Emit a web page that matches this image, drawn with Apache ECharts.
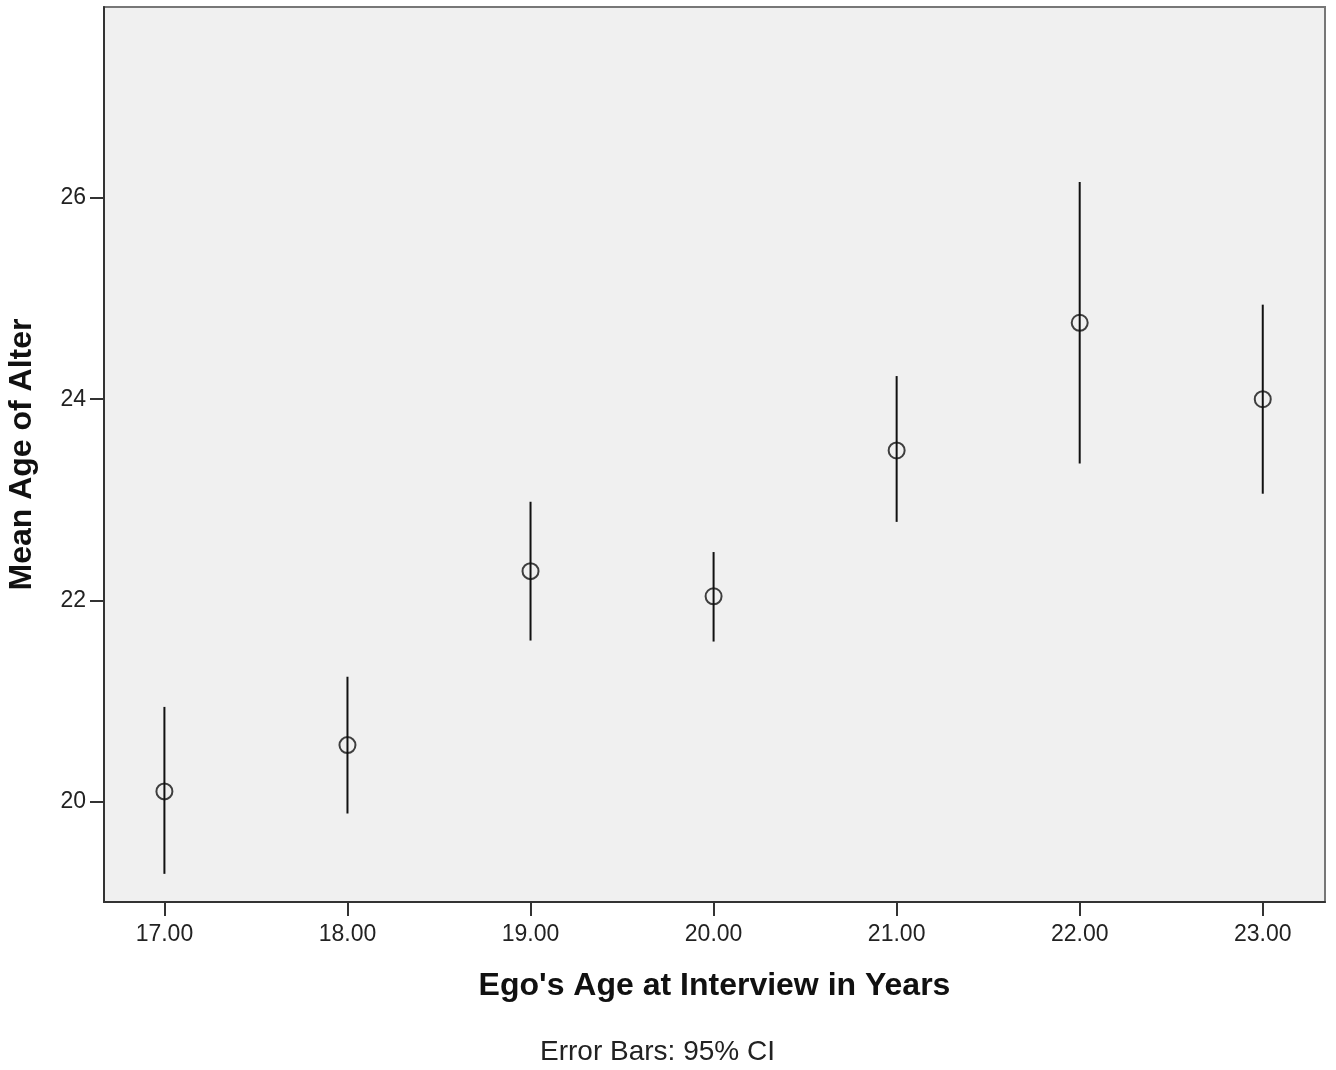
<!DOCTYPE html>
<html>
<head>
<meta charset="utf-8">
<script src="https://cdn.jsdelivr.net/npm/echarts@6/dist/echarts.min.js"></script>
<style>
  html, body { margin: 0; padding: 0; background: #fff; }
  #chart { width: 1336px; height: 1070px; }
</style>
</head>
<body>
<div id="chart"></div>
<script>
// ego age groups and mean age of alter with 95% CI
const egoAges = [17, 18, 19, 20, 21, 22, 23];
const means = [20.10, 20.56, 22.29, 22.04, 23.49, 24.76, 24.00];
const lower = [19.28, 19.88, 21.60, 21.59, 22.78, 23.36, 23.06];
const upper = [20.94, 21.24, 22.98, 22.48, 24.23, 26.16, 24.94];
const yTicks = [20, 22, 24, 26];

const chart = echarts.init(document.getElementById("chart"));
const font = "'Liberation Sans', Arial, sans-serif";

chart.setOption({
  animation: false,
  backgroundColor: "#fff",
  grid: {
    left: 104,
    right: 11,
    top: 7,
    bottom: 168,
    outerBoundsMode: "none",
    show: true,
    backgroundColor: "#f0f0f0",
    borderColor: "#777",
    borderWidth: 2,
  },
  xAxis: {
    type: "value",
    min: 16.67,
    max: 23.34,
    name: "Ego's Age at Interview in Years",
    nameLocation: "middle",
    nameGap: 68,
    nameTextStyle: {
      fontFamily: font,
      fontWeight: "bold",
      fontSize: 32,
      color: "#111",
    },
    splitLine: { show: false },
    axisLine: { show: true, lineStyle: { color: "#333", width: 2 } },
    axisTick: {
      show: true,
      length: 14,
      customValues: egoAges,
      lineStyle: { color: "#333", width: 2 },
    },
    axisLabel: {
      customValues: egoAges,
      margin: 21,
      fontFamily: font,
      fontSize: 23,
      color: "#222",
      formatter: (v) => v.toFixed(2),
    },
  },
  yAxis: {
    type: "value",
    min: 19,
    max: 27.9,
    name: "Mean Age of Alter",
    nameLocation: "middle",
    nameGap: 66,
    nameTextStyle: {
      fontFamily: font,
      fontWeight: "bold",
      fontSize: 32,
      color: "#111",
    },
    splitLine: { show: false },
    axisLine: { show: true, lineStyle: { color: "#333", width: 2 } },
    axisTick: {
      show: true,
      length: 14,
      customValues: yTicks,
      lineStyle: { color: "#333", width: 2 },
    },
    axisLabel: {
      customValues: yTicks,
      margin: 18,
      fontFamily: font,
      fontSize: 23,
      color: "#222",
    },
  },
  graphic: [
    {
      type: "text",
      left: 540,
      top: 1038,
      style: {
        text: "Error Bars: 95% CI",
        fontFamily: font,
        fontSize: 28,
        fill: "#222",
      },
    },
  ],
  series: [
    {
      // 95% CI bars
      type: "custom",
      data: egoAges.map((x, i) => [x, lower[i], upper[i]]),
      renderItem: (params, api) => {
        const lo = api.coord([api.value(0), api.value(1)]);
        const hi = api.coord([api.value(0), api.value(2)]);
        return {
          type: "line",
          shape: { x1: lo[0], y1: lo[1], x2: hi[0], y2: hi[1] },
          style: { stroke: "#111", lineWidth: 2 },
        };
      },
      z: 2,
    },
    {
      type: "scatter",
      data: egoAges.map((x, i) => [x, means[i]]),
      symbol: "circle",
      symbolSize: 16,
      itemStyle: {
        color: "rgba(0,0,0,0)",
        borderColor: "#111",
        borderWidth: 2,
      },
      z: 3,
    },
  ],
});
</script>
</body>
</html>
